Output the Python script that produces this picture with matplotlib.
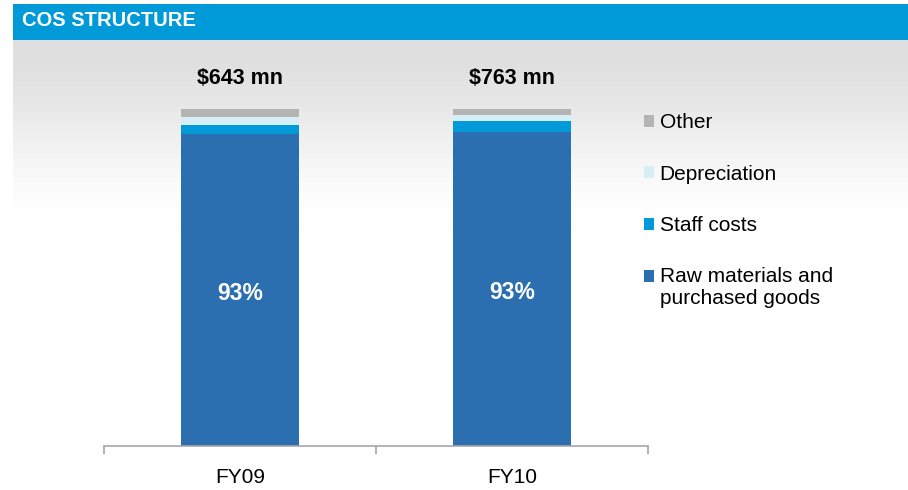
import matplotlib
matplotlib.use("Agg")
import matplotlib.pyplot as plt
import numpy as np
from matplotlib.patches import Rectangle
from matplotlib.legend_handler import HandlerPatch

categories = ["FY09", "FY10"]
totals = ["$643 mn", "$763 mn"]
series_names = ["Raw materials and\npurchased goods", "Staff costs", "Depreciation", "Other"]
raw = [92.7, 93.1]
staff = [2.7, 3.2]
depr = [2.3, 1.9]
other = [2.3, 1.8]
inner_labels = ["93%", "93%"]
colors = ["#2B6FB0", "#009AD9", "#D6EEF6", "#B4B4B4"]

W, H = 908, 490
plt.rcParams['font.family'] = ['Liberation Sans', 'DejaVu Sans']
fig = plt.figure(figsize=(W / 100, H / 100), dpi=100)
fig.patch.set_facecolor("white")

def fx(px): return px / W
def fy(py): return 1 - py / H

# background gradient
bg = fig.add_axes([fx(13), fy(490), fx(W - 13), 450 / H])
bg.set_axis_off()
ys = np.linspace(40, 490, 451)
t = np.clip((ys - 40) / 190, 0, 1)
t = t * t * (3 - 2 * t)
vals = 0.875 + 0.125 * t
img = np.repeat(vals[:, None], 2, axis=1)
bg.imshow(np.dstack([img, img, img]), aspect='auto', extent=[0, 1, 0, 1], interpolation='bilinear')

# header
fig.patches.append(Rectangle((fx(13), fy(40)), fx(W - 13), 36 / H, transform=fig.transFigure,
                             facecolor="#009AD9", edgecolor="none", zorder=1))
fig.text(fx(22), fy(21), "COS STRUCTURE", color="white", fontsize=14.5, fontweight="bold",
         va="center", ha="left", zorder=2)

# main axes
ax = fig.add_axes([fx(104), fy(446), fx(648 - 104), 337 / H])
ax.patch.set_alpha(0)
x = np.arange(len(categories))
bw = 0.434
bottom = np.zeros(len(categories))
bars = []
for vals_s, c, name in zip([raw, staff, depr, other], colors, series_names):
    b = ax.bar(x, vals_s, bw, bottom=bottom, color=c, label=name, edgecolor="none")
    bars.append(b)
    bottom = bottom + np.array(vals_s)

ax.set_xlim(-0.5, 1.5)
ax.set_ylim(0, 100)
for s in ["top", "left", "right"]:
    ax.spines[s].set_visible(False)
ax.spines["bottom"].set_color("#A6A6A6")
ax.spines["bottom"].set_linewidth(1.2)
ax.set_yticks([])
ax.set_xticks(x)
ax.set_xticklabels(categories, fontsize=15)
ax.tick_params(axis='x', which='major', length=0, pad=16)
ax.set_xticks([-0.5, 0.5, 1.5], minor=True)
ax.tick_params(axis='x', which='minor', length=6, color="#A6A6A6", width=1.2, direction="out")

for i in range(len(categories)):
    ax.text(x[i], bottom[i] + 9.0, totals[i], ha="center", va="center", fontsize=15.5,
            fontweight="bold", color="black")
    ax.text(x[i], raw[i] - 47.5, inner_labels[i], ha="center", va="center", fontsize=16.5,
            fontweight="bold", color="white")


def top_aligned(legend, orig_handle, xdescent, ydescent, width, height, fontsize):
    return Rectangle((-xdescent, -ydescent + 0.6 * fontsize), width, height)


def first_child(handle, orig):
    handle.update_from(orig.patches[0])


handles = [bars[3], bars[2], bars[1], bars[0]]
labels = [series_names[3], series_names[2], series_names[1], series_names[0]]
leg = fig.legend(handles, labels, loc="upper left", bbox_to_anchor=(fx(644), fy(113)),
                 frameon=False, fontsize=15, handlelength=0.5, handleheight=0.5,
                 handletextpad=0.25, labelspacing=1.56, borderaxespad=0, borderpad=0,
                 handler_map={bars[0]: HandlerPatch(patch_func=top_aligned, update_func=first_child)})

fig.savefig("out.png", dpi=100)
